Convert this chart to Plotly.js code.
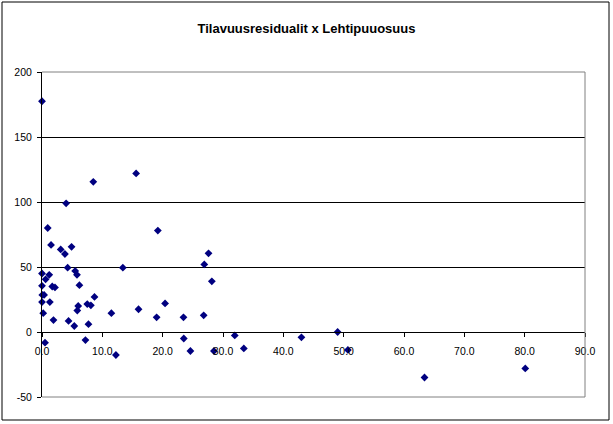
<!DOCTYPE html>
<html>
<head>
<meta charset="utf-8">
<script src="https://cdn.plot.ly/plotly-3.0.1.min.js"></script>
<style>
  html, body { margin: 0; padding: 0; background: #fff; }
  #chart { width: 613px; height: 424px; }
</style>
</head>
<body>
<div id="chart"></div>
<script>
// Lehtipuuosuus (x) and Tilavuusresidualit (y)
const lehtipuuosuus = [
  0.0, 8.5, 15.6, 4.0, 0.95, 19.2, 1.5, 3.1, 4.9, 3.8,
  4.25, 13.4, 5.5, 5.8, 0.0, 1.2, 0.6, 0.0, 1.7, 2.15,
  6.2, 8.7, 0.05, 0.35, 0.0, 1.3, 7.5, 8.1, 6.0, 5.85,
  0.2, 11.5, 16.0, 20.4, 19.0, 23.45, 26.8, 1.9, 4.4, 7.7,
  5.35, 0.5, 7.2, 12.25, 23.5, 24.6, 28.5, 27.6, 26.9, 28.15,
  31.95, 33.45, 43.0, 49.0, 50.7, 63.4, 80.1
];
const tilavuusresidualit = [
  177.5, 115.5, 122, 99, 80, 78, 67, 63.5, 65.5, 60,
  49.5, 49.5, 47, 44, 45, 44, 40.5, 35.5, 35, 34.3,
  36, 27, 28.5, 28.5, 23, 23, 21.5, 20.5, 20, 16.5,
  14.5, 14.5, 17.5, 22, 11.3, 11.3, 12.8, 9.2, 8.5, 6,
  4.6, -8.2, -6.2, -17.7, -5, -14.6, -14.6, 60.5, 52, 39,
  -2.6, -12.6, -4.1, 0, -13.8, -35, -28
];
const xTicks = [0, 10, 20, 30, 40, 50, 60, 70, 80, 90];
const xTickLabels = ["0.0", "10.0", "20.0", "30.0", "40.0", "50.0", "60.0", "70.0", "80.0", "90.0"];
const yTicks = [-50, 0, 50, 100, 150, 200];
const yTickLabels = ["-50", "0", "50", "100", "150", "200"];
const chartTitle = "Tilavuusresidualit x Lehtipuuosuus";

const FONT = "Arial, 'Liberation Sans', sans-serif";
const yMin = -50, yMax = 200;

const trace = {
  type: "scatter",
  mode: "markers",
  x: lehtipuuosuus,
  y: tilavuusresidualit,
  marker: { symbol: "diamond", size: 6, color: "#000080", line: { width: 0 } },
  hoverinfo: "x+y",
  cliponaxis: false
};

const layout = {
  width: 613,
  height: 424,
  margin: { l: 42, r: 28, t: 72, b: 27, pad: 0 },
  paper_bgcolor: "#ffffff",
  plot_bgcolor: "#ffffff",
  showlegend: false,
  title: {
    text: chartTitle,
    font: { family: FONT, size: 13, color: "#000000", weight: "bold" },
    x: 0.5, xanchor: "center",
    y: 1 - 28 / 424, yanchor: "middle"
  },
  xaxis: {
    range: [0, 90],
    tickvals: xTicks,
    ticktext: xTickLabels,
    showgrid: false,
    zeroline: false,
    showline: true,
    linecolor: "#000000",
    linewidth: 1,
    ticks: "outside",
    ticklen: 4,
    tickcolor: "#000000",
    ticklabelstandoff: 5,
    anchor: "free",
    position: (0 - yMin) / (yMax - yMin),
    tickfont: { family: FONT, size: 10.5, color: "#000000" },
    fixedrange: true
  },
  yaxis: {
    range: [yMin, yMax],
    tickvals: yTicks,
    ticktext: yTickLabels,
    showgrid: true,
    gridcolor: "#000000",
    gridwidth: 1,
    zeroline: false,
    showline: true,
    linecolor: "#000000",
    linewidth: 1,
    ticks: "outside",
    ticklen: 4,
    tickcolor: "#000000",
    ticklabelstandoff: 3,
    tickfont: { family: FONT, size: 10.5, color: "#000000" },
    fixedrange: true
  },
  shapes: [
    // plot-area border (top, right, bottom) in grey
    { type: "path", xref: "paper", yref: "paper",
      path: "M 0 1 L 1 1 L 1 0 L 0 0",
      line: { color: "#808080", width: 1 }, layer: "above" },
    // outer chart frame
    { type: "rect", xref: "paper", yref: "paper",
      x0: -40 / 543, x1: 1 + 24 / 543, y0: -23 / 325, y1: 1 + 70 / 325,
      line: { color: "#000000", width: 1 }, fillcolor: "rgba(0,0,0,0)", layer: "below" }
  ]
};

Plotly.newPlot("chart", [trace], layout, { staticPlot: true, displayModeBar: false });
</script>
</body>
</html>
